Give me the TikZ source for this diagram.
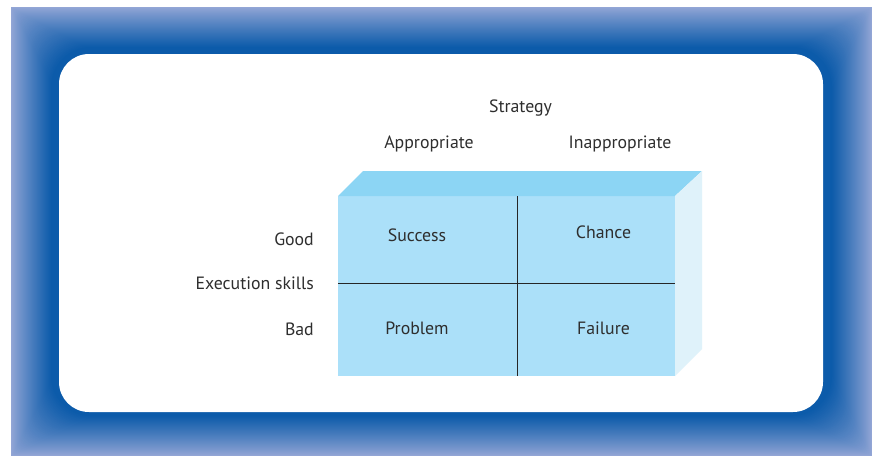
\documentclass[tikz,border=0pt]{standalone}
\usepackage{fontspec}
\setmainfont{PT Sans}
\definecolor{frlight}{HTML}{93A6D6}
\definecolor{frdark}{HTML}{0C5BAA}
\definecolor{frontc}{HTML}{ABE0F9}
\definecolor{topc}{HTML}{8CD5F4}
\definecolor{sidec}{HTML}{DFF2FA}
\definecolor{txt}{HTML}{2E2E2E}
\tikzset{
  lbl/.style={text=txt, font=\fontsize{17.8}{21}\selectfont, inner sep=0pt, anchor=base},
  lblr/.style={lbl, anchor=base east},
  divider/.style={draw=black!85, line width=0.9pt}
}
\begin{document}
\begin{tikzpicture}[x=1pt,y=-1pt]
\useasboundingbox (0,0) rectangle (875,459);
% outer gradient frame
\fill[frlight] (11,7) rectangle (872,456);
\begin{scope}
\clip (11,7) rectangle (872,456);
\foreach \i in {1,...,42}{
  \pgfmathsetmacro{\pc}{min(100,100*(\i/40)^0.9)}
  \fill[frdark!\pc!frlight, rounded corners=\i pt] (11+\i,7+\i) rectangle (872-\i,456-\i);
}
\end{scope}
\fill[white, rounded corners=30pt] (59,54) rectangle (823,412);
% cube
\coordinate (fl) at (338,196);
\coordinate (fr) at (675,196);
\coordinate (br) at (675,376);
\coordinate (bl) at (338,376);
\coordinate (tl) at (363,171);
\coordinate (tr) at (702,171);
\coordinate (sr) at (702,349);
\fill[frontc] (fl) -- (fr) -- (br) -- (bl) -- cycle;
\fill[topc] (fl) -- (tl) -- (tr) -- (fr) -- cycle;
\fill[sidec] (fr) -- (tr) -- (sr) -- (br) -- cycle;
\coordinate (vt) at (517,196);
\coordinate (vb) at (517,376);
\coordinate (hl) at (338,283);
\coordinate (hr) at (675,283);
\draw[divider] (vt) -- (vb);
\draw[divider] (hl) -- (hr);
% labels
\node[lbl] (strategy) at (520.5,112.5) {Strategy};
\node[lbl] (appr) at (429,148.5) {Appropriate};
\node[lbl] (inappr) at (620,148.5) {Inappropriate};
\node[lblr] (good) at (314,245) {Good};
\node[lblr] (exec) at (314,289.5) {Execution skills};
\node[lblr] (bad) at (314,335.5) {Bad};
\node[lbl] (success) at (417,241.5) {Success};
\node[lbl] (chance) at (603.5,238) {Chance};
\node[lbl] (problem) at (417,334) {Problem};
\node[lbl] (failure) at (603.5,334) {Failure};
\end{tikzpicture}
\end{document}
